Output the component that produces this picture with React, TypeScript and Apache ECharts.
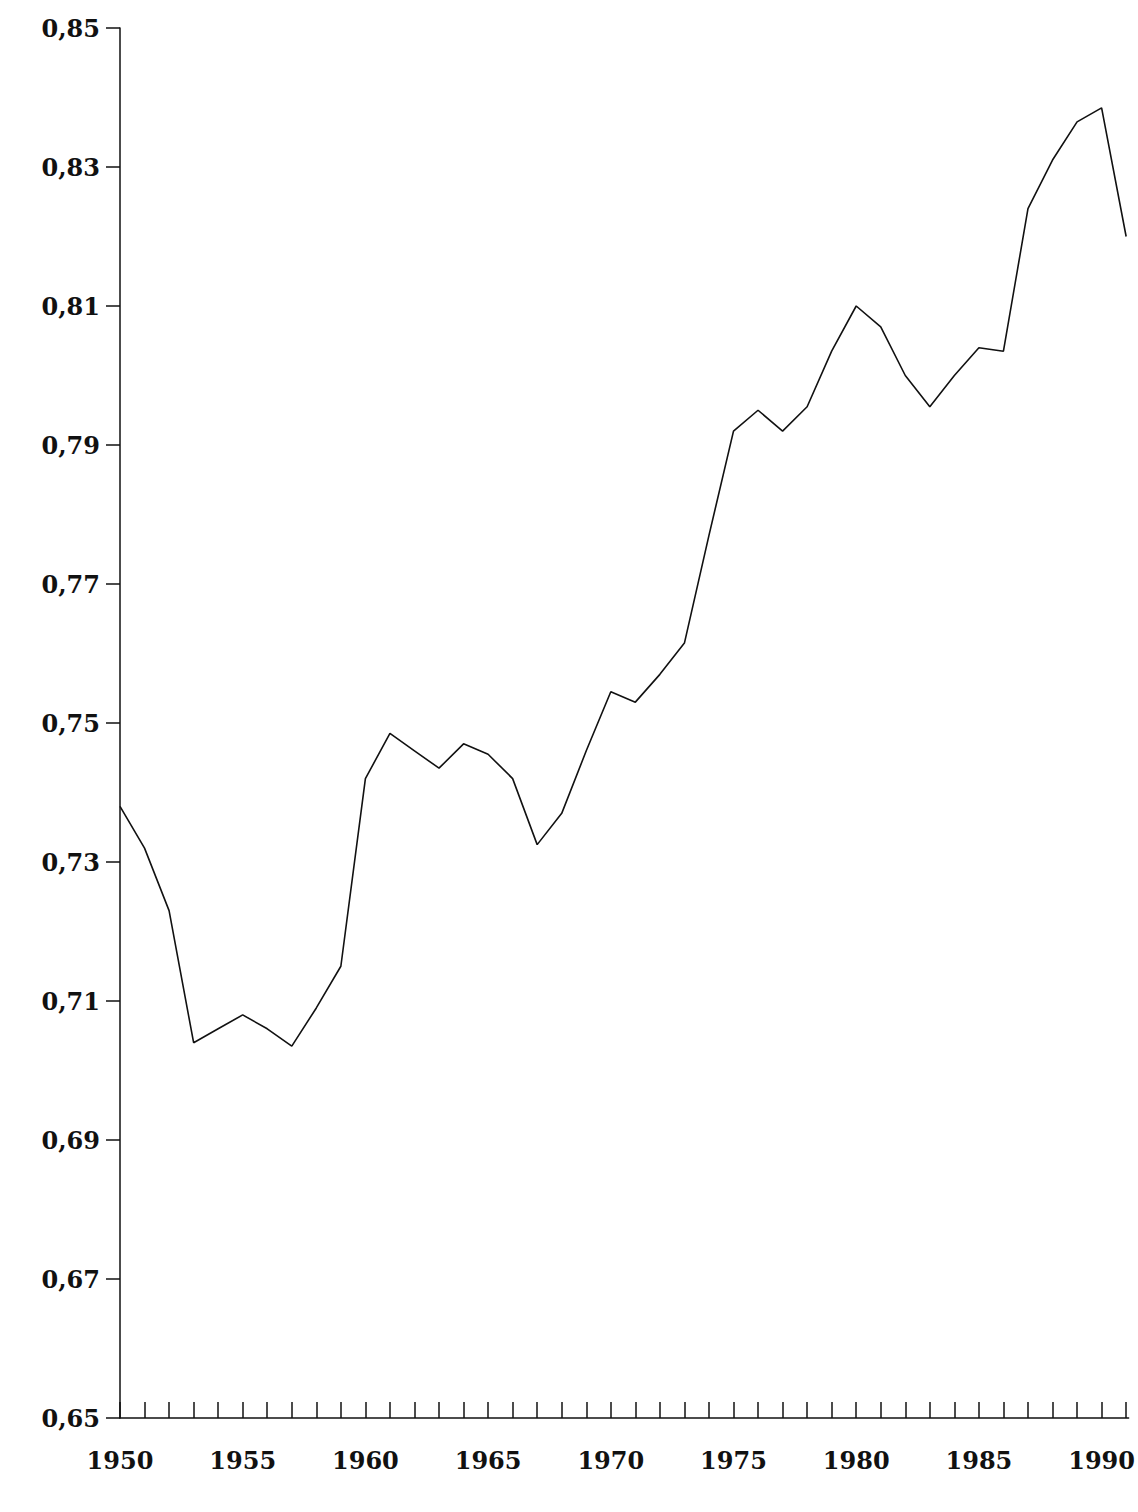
import React, { useEffect, useRef } from "react";
import * as echarts from "echarts";

const years = Array.from({ length: 42 }, (_, i) => 1950 + i);
const values = [
  0.738, 0.732, 0.723, 0.704, 0.706, 0.708, 0.706, 0.7035, 0.709, 0.715,
  0.742, 0.7485, 0.746, 0.7435, 0.747, 0.7455, 0.742, 0.7325, 0.737, 0.746,
  0.7545, 0.753, 0.757, 0.7615, 0.777, 0.792, 0.795, 0.792, 0.7955, 0.8035,
  0.81, 0.807, 0.8, 0.7955, 0.8, 0.804, 0.8035, 0.824, 0.831, 0.8365,
  0.8385, 0.82,
];
const yTicks = [0.65, 0.67, 0.69, 0.71, 0.73, 0.75, 0.77, 0.79, 0.81, 0.83, 0.85];
const xLabels = [1950, 1955, 1960, 1965, 1970, 1975, 1980, 1985, 1990];
const xTicks = Array.from({ length: 42 }, (_, i) => 1950 + i);

export default function App() {
  const ref = useRef<HTMLDivElement>(null);
  useEffect(() => {
    const chart = echarts.init(ref.current!, null, { renderer: "svg" });
    const font = { fontFamily: "DejaVu Serif", fontWeight: "bold" as const, fontSize: 24, color: "#111" };
    chart.setOption({
      animation: false,
      backgroundColor: "#fff",
      grid: { left: 120, right: 0, top: 28, bottom: 94 },
      xAxis: {
        type: "value",
        min: 1950,
        max: 1991.1,
        axisLine: { lineStyle: { color: "#111", width: 1.5 } },
        axisTick: { inside: true, length: 16, customValues: xTicks, lineStyle: { color: "#111", width: 1.5 } },
        axisLabel: { customValues: xLabels, margin: 30, ...font, formatter: (v: number) => String(v) },
        splitLine: { show: false },
      },
      yAxis: {
        type: "value",
        min: 0.65,
        max: 0.85,
        axisLine: { show: true, lineStyle: { color: "#111", width: 1.5 } },
        axisTick: { show: true, length: 14, customValues: yTicks, lineStyle: { color: "#111", width: 1.5 } },
        axisLabel: {
          customValues: yTicks,
          margin: 20,
          ...font,
          formatter: (v: number) => v.toFixed(2).replace(".", ","),
        },
        splitLine: { show: false },
      },
      series: [
        {
          type: "line",
          data: years.map((y, i) => [y, values[i]]),
          symbol: "none",
          lineStyle: { color: "#111", width: 1.6 },
        },
      ],
    });
    return () => chart.dispose();
  }, []);
  return <div ref={ref} style={{ position: "fixed", left: 0, top: 0, width: 1138, height: 1512 }} />;
}
